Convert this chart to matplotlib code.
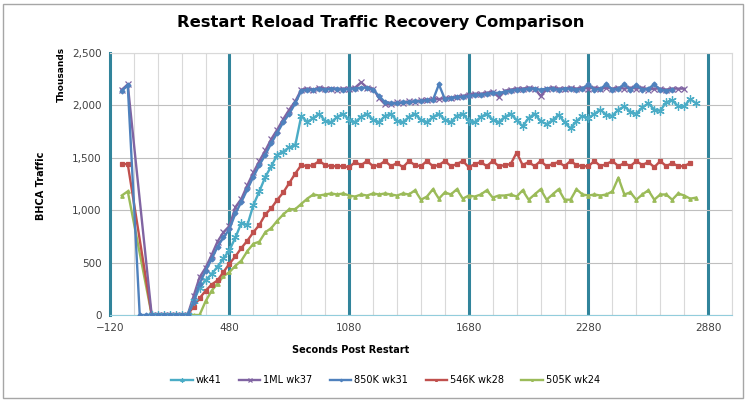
import numpy as np
import matplotlib.pyplot as plt
from matplotlib.ticker import MultipleLocator, FuncFormatter

# Tiempo (s) tomado cada 30 s
secs = np.arange(-60, 2821, 30)
N = None

wk41 = [N, N, N, N, N, 0, 0, 0, 0, 0,
        0, 0, 130, 260, 330, 390, 460, 540, 620, 740,
        880, 860, 1050, 1180, 1320, 1420, 1530, 1560, 1600, 1620,
        1900, 1840, 1880, 1920, 1850, 1840, 1890, 1920, 1860, 1840,
        1890, 1920, 1860, 1840, 1900, 1920, 1850, 1840, 1890, 1920,
        1860, 1840, 1890, 1920, 1860, 1840, 1900, 1920, 1850, 1840,
        1890, 1920, 1860, 1840, 1890, 1920, 1860, 1800, 1880, 1920,
        1850, 1820, 1860, 1910, 1840, 1780, 1850, 1900, 1880, 1920,
        1960, 1910, 1900, 1960, 1990, 1940, 1920, 1980, 2020, 1960,
        1950, 2030, 2050, 1990, 1990, 2060, 2020]

ml_wk37 = [2150, 2200, N, N, N, 0, 0, 0, 0, 0,
           0, 0, 180, 360, 450, 570, 700, 790, 850, 1030,
           1110, 1240, 1360, 1470, 1570, 1680, 1770, 1870, 1960, 2040,
           2150, 2160, 2150, 2170, 2160, 2160, 2150, 2160, 2160, 2170,
           2220, 2170, 2160, 2070, 2010, 2010, 2030, 2020, 2040, 2030,
           2050, 2050, 2060, 2060, 2070, 2070, 2080, 2090, 2100, 2110,
           2110, 2120, 2130, 2080, 2140, 2150, 2160, 2160, 2170, 2160,
           2090, 2160, 2170, 2160, 2160, 2170, 2160, 2170, 2160, 2170,
           2160, 2170, 2160, 2170, 2160, 2170, 2160, 2170, 2150, 2160,
           2160, 2150, 2160, 2160, 2160, N, N]

k850_wk31 = [2140, 2190, N, 0, 0, 0, 0, 0, 0, 0,
             0, 0, 120, 300, 420, 530, 650, 740, 820, 970,
             1080, 1200, 1320, 1430, 1530, 1640, 1740, 1840, 1920, 2020,
             2140, 2150, 2150, 2160, 2150, 2160, 2160, 2150, 2160, 2160,
             2170, 2170, 2150, 2090, 2030, 2020, 2020, 2030, 2030, 2040,
             2040, 2050, 2050, 2200, 2060, 2070, 2080, 2080, 2090, 2100,
             2100, 2110, 2120, 2120, 2130, 2140, 2150, 2150, 2160, 2160,
             2150, 2160, 2160, 2150, 2160, 2160, 2150, 2160, 2200, 2150,
             2160, 2200, 2150, 2160, 2200, 2150, 2190, 2150, 2160, 2200,
             2150, 2140, 2150, N, N, N, N]

k546_wk28 = [1440, 1440, N, N, N, 0, 0, 0, 0, 0,
             0, 0, 80, 160, 230, 290, 330, 410, 490, 560,
             640, 710, 790, 860, 960, 1020, 1100, 1170, 1260, 1350,
             1430, 1420, 1430, 1470, 1430, 1420, 1420, 1420, 1410, 1460,
             1430, 1470, 1420, 1430, 1470, 1420, 1450, 1410, 1470, 1430,
             1420, 1470, 1420, 1430, 1470, 1420, 1440, 1470, 1410, 1440,
             1460, 1420, 1470, 1420, 1430, 1440, 1550, 1430, 1460, 1420,
             1470, 1420, 1440, 1460, 1420, 1470, 1430, 1420, 1420, 1470,
             1420, 1440, 1470, 1420, 1450, 1420, 1470, 1430, 1460, 1410,
             1470, 1420, 1450, 1420, 1420, 1450, N]

k505_wk24 = [1140, 1180, N, N, N, 0, 0, 0, 0, 0,
             0, 0, 0, 0, 130, 230, 300, 370, 410, 470,
             520, 610, 680, 700, 790, 830, 900, 960, 1010, 1010,
             1060, 1110, 1150, 1140, 1150, 1160, 1150, 1160, 1140, 1130,
             1150, 1140, 1160, 1150, 1160, 1150, 1140, 1160, 1150, 1190,
             1100, 1130, 1200, 1110, 1170, 1150, 1200, 1110, 1140, 1130,
             1150, 1190, 1120, 1140, 1140, 1150, 1130, 1190, 1100, 1150,
             1200, 1100, 1150, 1200, 1100, 1100, 1200, 1150, 1140, 1150,
             1140, 1150, 1180, 1310, 1150, 1170, 1100, 1150, 1190, 1100,
             1150, 1150, 1100, 1160, 1140, 1110, 1120]

series = [
    ("wk41", wk41, '#4bacc6', (6, 2, 0), 6, 4),
    ("1ML wk37", ml_wk37, '#8064a2', 'x', 5, 3),
    ("850K wk31", k850_wk31, '#4f81bd', 'D', 2.5, 5),
    ("546K wk28", k546_wk28, '#c0504d', 's', 2.5, 2),
    ("505K wk24", k505_wk24, '#9bbb59', '^', 2.5, 1),
]

fig = plt.figure(figsize=(7.47, 4.0), dpi=100)
ax = fig.add_axes([0.147, 0.2125, 0.833, 0.655])

for nombre, vals, col, mk, ms, z in series:
    v = np.array([np.nan if x is None else x for x in vals], dtype=float)
    ok = ~np.isnan(v)
    ax.plot(secs[ok], v[ok], color=col, lw=1.7, marker=mk, ms=ms,
            mew=0.9, label=nombre, zorder=z)

ax.set_xlim(-120, 3000)
ax.set_ylim(0, 2500)

# Grillas: menores cada 120 s, mayores (gruesas) cada 600 s
ax.xaxis.set_major_locator(MultipleLocator(600, offset=-120))
ax.xaxis.set_minor_locator(MultipleLocator(120))
ax.yaxis.set_major_locator(MultipleLocator(500))
ax.yaxis.set_major_formatter(FuncFormatter(lambda y, p: f"{int(y):,}"))
ax.grid(which='minor', axis='x', color='#d9d9d9', lw=0.8)
ax.grid(which='major', axis='y', color='#bfbfbf', lw=0.8)
for xv in [480, 1080, 1680, 2280, 2880]:
    ax.axvline(xv, color='#31849b', lw=2.2, zorder=0.5)
ax.set_axisbelow(True)

ax.spines['left'].set_color('#31849b')
ax.spines['left'].set_linewidth(2.2)
ax.spines['bottom'].set_color('#92cddc')
ax.spines['top'].set_color('#d9d9d9')
ax.spines['right'].set_color('#d9d9d9')
ax.tick_params(which='both', length=0, labelsize=7.5, colors='#404040', pad=6)

fig.text(0.51, 0.945, "Restart Reload Traffic Recovery Comparison",
         ha='center', va='center', fontsize=11.8, fontweight='bold')
fig.text(0.055, 0.535, "BHCA Traffic", rotation=90, ha='center',
         va='center', fontsize=7, fontweight='bold')
fig.text(0.082, 0.815, "Thousands", rotation=90, ha='center',
         va='center', fontsize=6.5, fontweight='bold')
fig.text(0.469, 0.125, "Seconds Post Restart", ha='center', va='center',
         fontsize=7, fontweight='bold')

leg = fig.legend(loc='center', bbox_to_anchor=(0.516, 0.05), ncol=5,
                 frameon=False, fontsize=7, handlelength=2.2,
                 handletextpad=0.3, columnspacing=1.8, markerscale=0.5)

fig.patches.append(plt.Rectangle((0.004, 0.005), 0.99, 0.985,
                                 transform=fig.transFigure, fill=False,
                                 edgecolor='#a6a6a6', lw=1))

plt.savefig('out.png', dpi=100)
